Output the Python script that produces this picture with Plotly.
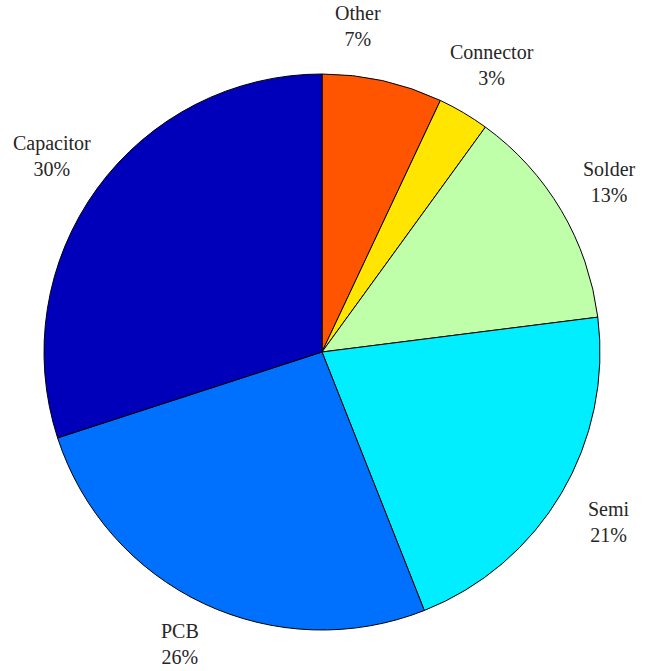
import math
import plotly.graph_objects as go

# Data (clockwise from 12 o'clock)
categories = ["Other", "Connector", "Solder", "Semi", "PCB", "Capacitor"]
values = [7, 3, 13, 21, 26, 30]
colors = ["#FF5500", "#FFE500", "#BFFFAA", "#00EEFF", "#0070FF", "#0000BB"]

W, H = 656, 671
ml, mr, mt, mb = 44, 56, 74, 41

fig = go.Figure(go.Pie(
    labels=categories,
    values=values,
    sort=False,
    direction="clockwise",
    rotation=0,
    textinfo="none",
    hoverinfo="label+percent",
    marker=dict(colors=colors, line=dict(color="black", width=1)),
    showlegend=False,
))

# Labels placed at 1.2 x radius along each slice's mid-angle (MATLAB pie style)
total = float(sum(values))
cum = 0.0
annotations = []
label_font = dict(family="Liberation Serif, Times New Roman, serif", size=20, color="#262626")
nudge = {"Other": (-37, 0), "PCB": (0, 10)}
for name, v in zip(categories, values):
    mid = (cum + v / 2.0) / total * 2 * math.pi
    cum += v
    x = 0.5 + 0.6 * math.sin(mid)
    y = 0.5 + 0.6 * math.cos(mid)
    pct = "%d%%" % round(v / total * 100)
    dx, dy = nudge.get(name, (0, 0))
    annotations.append(dict(
        x=x, y=y, xref="paper", yref="paper", text=name + "<br>" + pct,
        showarrow=False, align="center",
        xanchor="center", yanchor="middle", xshift=dx, yshift=dy,
        borderpad=0, font=label_font,
    ))

fig.update_layout(
    width=W, height=H,
    margin=dict(l=ml, r=mr, t=mt, b=mb, pad=0),
    paper_bgcolor="white", plot_bgcolor="white",
    annotations=annotations,
)

fig.write_html("out.html", config={"displayModeBar": False},
               post_script="document.body.style.margin='0px';")
